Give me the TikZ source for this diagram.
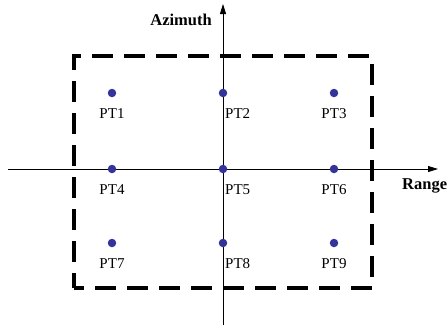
\documentclass[tikz,border=0pt]{standalone}
\usepackage{fontspec}
\setmainfont{Liberation Serif}
\usetikzlibrary{arrows.meta}
\definecolor{dotblue}{RGB}{51,51,153}
\begin{document}
\begin{tikzpicture}[x=1pt,y=-1pt,
  axis/.style={line width=0.8pt,-{Triangle[length=10pt,width=6pt]}},
  region/.style={line width=3.2pt,dash pattern=on 21pt off 11pt},
  pt/.style={circle,fill=dotblue,inner sep=0pt,minimum size=8.5pt},
  ptlabel/.style={font=\fontsize{15}{18}\selectfont,inner sep=0pt,anchor=base},
  axlabel/.style={font=\fontsize{16.5}{19}\selectfont\bfseries,inner sep=0pt}]
  \useasboundingbox (0,0) rectangle (448,325);

  % axes
  \coordinate (xs) at (8,169);
  \coordinate (xe) at (438,169);
  \coordinate (ys) at (223,325);
  \coordinate (ye) at (223,4);
  \draw[axis] (xs) -- (xe);
  \draw[axis] (ys) -- (ye);
  \node[axlabel,anchor=base east] (az) at (212,25) {Azimuth};
  \node[axlabel,anchor=base west] (rg) at (402,189) {Range};

  % dashed region
  \draw[region,dash phase=6pt] (74,288) -- (74,56) -- (372,56) -- (372,288) -- cycle;

  % grid of points
  \node[pt] (p1) at (112,93) {};
  \node[pt] (p2) at (223,93) {};
  \node[pt] (p3) at (334,93) {};
  \node[pt] (p4) at (112,169) {};
  \node[pt] (p5) at (223,169) {};
  \node[pt] (p6) at (334,169) {};
  \node[pt] (p7) at (112,243) {};
  \node[pt] (p8) at (223,243) {};
  \node[pt] (p9) at (334,243) {};

  \node[ptlabel] (l1) at (112,118) {PT1};
  \node[ptlabel,anchor=base west] (l2) at (225,118) {PT2};
  \node[ptlabel] (l3) at (334,118) {PT3};
  \node[ptlabel] (l4) at (112,194) {PT4};
  \node[ptlabel,anchor=base west] (l5) at (225,194) {PT5};
  \node[ptlabel] (l6) at (334,194) {PT6};
  \node[ptlabel] (l7) at (112,268) {PT7};
  \node[ptlabel,anchor=base west] (l8) at (225,268) {PT8};
  \node[ptlabel] (l9) at (334,268) {PT9};
\end{tikzpicture}
\end{document}
